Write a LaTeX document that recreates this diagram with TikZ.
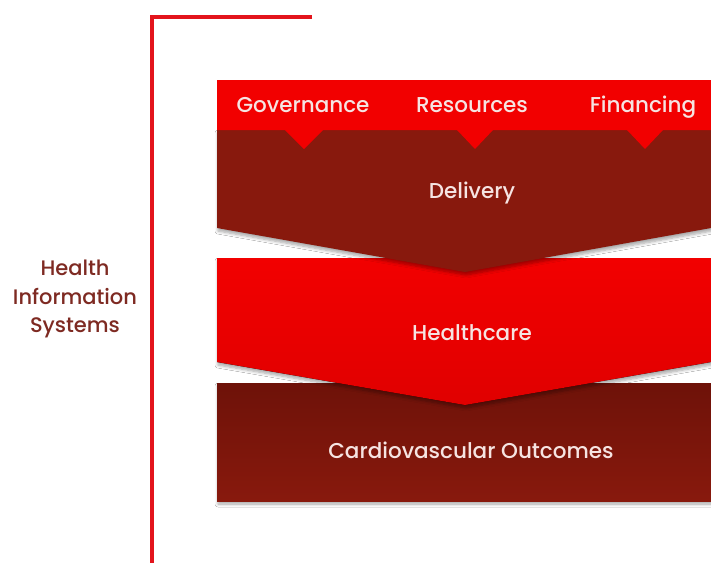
\documentclass[tikz,border=0pt]{standalone}
\usepackage{fontspec}
\setmainfont{Poppins}[UprightFont=* Medium]
\usetikzlibrary{shadows,shadows.blur}
\definecolor{brightred}{HTML}{F20000}
\definecolor{deepred}{HTML}{E00000}
\definecolor{darkred}{HTML}{88190D}
\definecolor{darkerred}{HTML}{6E1209}
\definecolor{linered}{HTML}{E3141C}
\definecolor{labeltext}{HTML}{F6E4E2}
\definecolor{sidetext}{HTML}{7E2A22}
\tikzset{
  shadowed/.style={blur shadow={shadow blur steps=6,shadow xshift=1pt,shadow yshift=-3pt,shadow blur radius=3pt,shadow opacity=35}},
  boxtext/.style={text=labeltext,font=\fontsize{21.5}{25}\selectfont,inner sep=0pt,anchor=base},
  sidelabel/.style={text=sidetext,align=center,font=\fontsize{21}{28.5}\selectfont,inner sep=0pt},
}
\begin{document}
\begin{tikzpicture}[x=1pt,y=-1pt]
\useasboundingbox[fill=white] (0,0) rectangle (711,563);
% bracket
\draw[linered,line width=3.2pt] (312,17) -- (152,17) -- (152,563);
% cardiovascular outcomes box
\fill[top color=darkerred,bottom color=darkred,shadowed] (217,383) rectangle (711,501);
% healthcare chevron
\fill[top color=brightred,bottom color=deepred,shadowed]
  (217,258) -- (711,258) -- (711,362) -- (465,405) -- (217,362) -- cycle;
% delivery chevron
\fill[darkred,shadowed]
  (217,130) -- (711,130) -- (711,228) -- (465,272) -- (217,228) -- cycle;
% top bar with notches
\fill[brightred]
  (217,80) -- (711,80) -- (711,130) -- (663,130) -- (645,149) -- (627,130)
  -- (493,130) -- (475,149) -- (457,130) -- (323,130) -- (304,149) -- (285,130)
  -- (217,130) -- cycle;
% texts
\node[boxtext] (gov) at (303,112) {Governance};
\node[boxtext] (res) at (472,112) {Resources};
\node[boxtext] (fin) at (643,112) {Financing};
\node[boxtext] (del) at (472,198) {Delivery};
\node[boxtext] (hc) at (472,340) {Healthcare};
\node[boxtext] (cvo) at (471,458) {Cardiovascular Outcomes};
\node[sidelabel] (his) at (75,299) {Health\\Information\\Systems};
\end{tikzpicture}
\end{document}
